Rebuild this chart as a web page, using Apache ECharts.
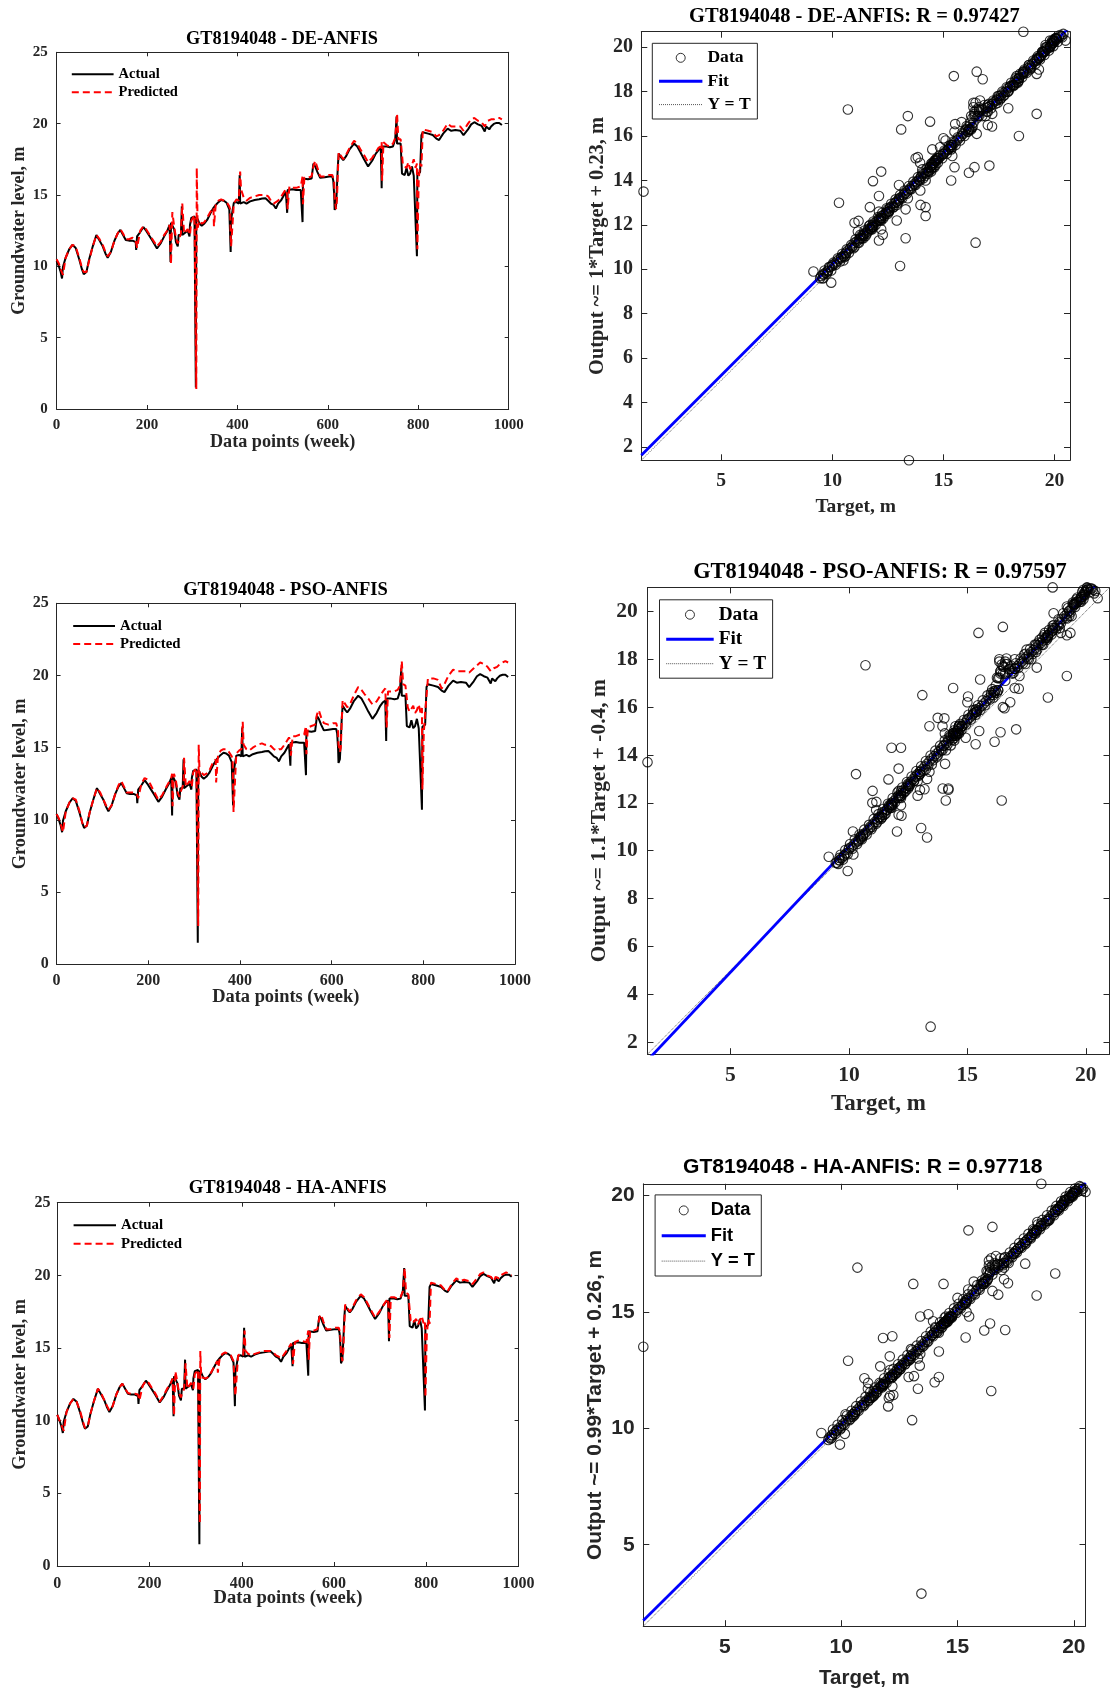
<!DOCTYPE html>
<html><head><meta charset="utf-8">
<script src="https://cdn.jsdelivr.net/npm/echarts@6/dist/echarts.min.js"></script>
<style>html,body{margin:0;padding:0;background:#fff}#c{width:1110px;height:1691px}</style>
</head><body><div id="c"></div>
<script>
// ---------------- DATA ----------------
const weeks = [0,5,9,12,14,20,28,35,42,50,56,60,66,72,80,88,95,102,108,113,120,128,135,141,147,153,160,168,175,176,178,185,192,198,204,212,222,230,238,245,250,252,253,256,260,264,268,270,275,277,278,282,290,294,295,298,305,308,309,310,312,316,321,327,333,340,347,348,352,358,364,370,376,382,384,385,386,392,398,403,405,406,408,414,420,428,438,448,455,462,468,474,480,485,490,497,503,507,510,511,515,522,530,540,544,545,548,556,564,568,572,577,583,593,603,610,612,614,615,618,620,622,624,630,634,640,648,658,665,672,680,689,698,706,712,717,719,720,723,730,737,744,749,752,753,756,761,764,766,770,774,778,782,786,790,794,797,798,801,804,807,810,822,832,840,846,855,865,873,882,893,900,910,917,924,932,940,944,947,950,954,957,961,967,973,979,985];

const actual = [10.4,10.0,9.6,9.15,9.95,10.6,11.2,11.5,11.3,10.5,9.8,9.45,9.6,10.5,11.4,12.2,11.8,11.4,10.9,10.6,11.0,11.8,12.3,12.55,12.2,11.85,11.8,11.8,11.7,11.15,12.1,12.4,12.75,12.5,12.2,11.8,11.25,11.6,12.1,12.5,12.9,10.3,13.05,13.0,12.6,11.7,11.4,12.2,12.2,14.2,12.2,12.1,12.5,12.1,12.9,13.4,13.5,1.5,13.45,13.4,13.3,13.0,12.85,13.0,13.25,13.7,14.1,14.2,14.3,14.5,14.65,14.6,14.45,14.0,13.9,11.0,13.3,14.45,14.5,14.4,16.4,14.4,14.5,14.5,14.4,14.55,14.65,14.7,14.75,14.77,14.6,14.4,14.3,14.05,14.4,14.65,15.0,15.23,13.75,15.35,15.35,15.4,15.35,15.35,13.1,16.15,16.1,16.1,16.15,17.2,17.0,16.6,16.2,16.25,16.3,16.3,16.0,15.0,13.95,14.2,15.5,17.0,17.9,17.6,17.45,17.7,18.2,18.6,18.4,18.0,17.5,17.0,17.4,17.9,18.15,18.27,15.47,18.4,18.3,18.4,18.35,18.4,18.9,20.5,18.6,18.6,18.6,16.5,16.6,16.4,16.9,16.35,16.5,17.0,16.35,16.4,10.7,16.45,16.5,16.6,19.2,19.4,19.3,19.2,18.95,18.85,19.3,19.65,19.5,19.55,19.5,19.2,19.6,19.95,20.1,19.95,19.85,19.8,19.45,19.8,19.9,19.6,19.8,19.98,20.05,20.05,19.9];

const predDE = [10.5,10.2,9.8,9.9,9.4,10.6,11.2,11.5,11.4,10.6,9.9,9.6,9.6,10.4,11.4,12.2,11.9,11.5,11.0,10.7,11.0,11.8,12.3,12.6,12.3,11.9,11.9,12.0,11.8,11.7,11.3,12.5,12.8,12.6,12.3,11.9,11.4,11.7,12.2,12.5,12.9,13.0,10.15,13.8,12.8,12.0,11.6,11.8,12.3,12.4,14.4,12.3,12.6,12.6,12.2,13.2,13.6,13.5,1.4,16.9,12.7,13.2,13.0,13.1,13.4,13.8,14.1,12.8,14.3,14.6,14.7,14.6,14.5,14.2,14.0,12.1,11.4,14.4,14.7,14.6,14.6,16.65,15.4,14.8,14.6,14.8,14.9,15.0,15.0,15.0,14.9,14.6,14.4,14.5,14.6,14.9,15.2,15.4,15.0,14.0,15.6,15.5,15.5,15.6,16.3,14.35,16.2,16.2,16.3,17.0,17.4,16.9,16.3,16.3,16.4,16.4,16.3,15.9,14.8,14.0,14.6,16.5,18.0,17.7,17.5,17.8,18.3,18.8,18.6,18.2,17.8,17.3,17.6,18.0,18.3,18.4,18.7,16.0,18.7,18.5,18.4,18.6,19.0,20.3,20.7,18.9,18.9,18.9,17.1,17.0,16.9,17.3,16.8,17.1,17.5,16.9,17.2,11.2,16.1,17.2,17.0,19.6,19.5,19.4,19.1,19.2,19.5,20.0,19.8,19.8,19.8,19.5,20.0,20.3,20.4,20.2,20.1,20.0,19.8,20.0,20.2,20.1,20.3,20.3,20.4,20.4,20.3];

const predPSO = [10.4,10.1,9.7,9.75,9.15,10.6,11.2,11.5,11.4,10.6,9.8,9.5,9.6,10.5,11.4,12.2,11.9,11.4,11.0,10.7,11.0,11.8,12.4,12.7,12.3,11.9,11.9,11.9,11.8,11.7,11.5,12.5,12.9,12.8,12.5,12.0,11.4,11.7,12.2,12.6,12.9,13.2,10.95,13.2,12.8,11.9,11.6,11.9,12.3,12.55,14.3,12.3,12.7,12.5,12.3,13.3,13.6,13.7,2.65,15.2,13.0,13.3,13.1,13.2,13.4,13.9,14.2,12.6,14.4,14.8,14.9,14.9,14.7,14.4,14.2,12.5,10.55,14.6,14.8,14.9,14.95,16.8,15.2,14.9,14.8,15.0,15.2,15.3,15.2,15.2,15.1,14.9,14.8,14.9,14.9,15.2,15.5,15.7,15.55,14.45,15.8,15.8,15.9,15.9,16.5,14.55,16.4,16.5,16.6,17.3,17.6,17.1,16.7,16.6,16.7,16.7,16.6,16.2,15.2,14.7,15.0,16.8,18.3,18.0,17.8,18.0,18.6,19.2,19.0,18.7,18.4,18.0,18.2,18.6,18.9,19.1,19.1,16.4,18.9,18.9,18.9,19.0,19.3,20.55,21.0,19.4,19.3,19.35,17.8,17.5,17.4,17.9,17.4,17.6,18.0,17.4,17.75,12.1,16.0,17.4,17.3,19.8,19.8,19.7,19.1,19.4,20.0,20.4,20.3,20.3,20.3,20.2,20.5,20.7,20.9,20.8,20.6,20.5,20.3,20.4,20.5,20.4,20.6,20.8,20.9,21.0,20.9];

const predHA = [10.4,10.0,9.7,9.8,9.3,10.6,11.2,11.5,11.3,10.6,9.9,9.5,9.6,10.5,11.4,12.2,11.9,11.4,11.0,10.7,11.0,11.8,12.3,12.55,12.2,11.9,11.85,11.85,11.8,11.7,11.4,12.4,12.75,12.6,12.3,11.9,11.3,11.7,12.2,12.5,12.9,12.9,10.35,13.4,12.7,11.9,11.6,11.8,12.2,12.2,13.95,12.2,12.6,12.5,12.2,13.2,13.5,13.5,2.9,14.8,13.0,13.1,12.9,13.0,13.3,13.7,14.1,13.3,14.3,14.6,14.7,14.6,14.5,14.1,14.0,12.15,11.7,14.5,14.6,14.5,14.5,16.2,14.8,14.6,14.5,14.6,14.7,14.8,14.8,14.8,14.7,14.5,14.4,14.3,14.5,14.8,15.1,15.3,14.9,13.9,15.4,15.5,15.5,15.4,16.2,14.2,16.2,16.2,16.3,17.1,17.3,16.8,16.3,16.3,16.4,16.4,16.2,15.6,14.6,14.1,14.8,16.4,18.0,17.7,17.5,17.8,18.3,18.7,18.5,18.1,17.6,17.1,17.5,17.9,18.2,18.4,18.5,15.7,18.5,18.5,18.4,18.5,18.9,20.15,20.5,18.8,18.7,18.65,16.9,16.7,16.8,17.0,16.6,16.9,17.2,16.7,16.9,11.6,15.9,17.0,16.65,19.5,19.4,19.3,19.0,18.9,19.4,19.8,19.6,19.7,19.6,19.4,19.8,20.1,20.2,20.0,19.9,19.9,19.6,19.9,20.0,19.8,20.0,20.1,20.2,20.1,20.0];

// dense band of the regression plots (Target -> Output read along the band)
const bandT = [9.5,9.6,9.7,9.8,9.9,10.0,10.1,10.2,10.3,10.4,10.5,10.6,10.7,10.8,10.9,11.0,11.1,11.2,11.3,11.4,11.5,11.6,11.7,11.8,11.9,12.0,12.1,12.2,12.3,12.4,12.5,12.6,12.7,12.8,12.9,13.0,13.1,13.2,13.3,13.4,13.5,13.6,13.7,13.8,13.9,14.0,14.1,14.2,14.3,14.4,14.5,14.6,14.7,14.8,14.9,15.0,15.1,15.2,15.3,15.4,15.5,15.6,15.7,15.8,15.9,16.0,16.1,16.2,16.3,16.4,16.5,16.6,16.7,16.8,16.9,17.0,17.1,17.2,17.3,17.4,17.5,17.6,17.7,17.8,17.9,18.0,18.1,18.2,18.3,18.4,18.5,18.6,18.7,18.8,18.9,19.0,19.1,19.2,19.3,19.4,19.5,19.6,19.7,19.8,19.9,20.0,20.1,20.2,20.3,20.4];
const bandDE = [9.7,9.75,9.85,9.95,10.1,10.15,10.25,10.35,10.45,10.55,10.6,10.75,10.85,10.95,11.05,11.2,11.25,11.35,11.5,11.55,11.65,11.8,11.85,11.95,12.1,12.15,12.25,12.4,12.45,12.55,12.7,12.75,12.85,13.0,13.05,13.15,13.25,13.35,13.45,13.55,13.65,13.75,13.85,13.95,14.05,14.15,14.3,14.35,14.45,14.6,14.7,14.8,14.9,15.0,15.1,15.2,15.3,15.4,15.5,15.6,15.7,15.8,15.9,16.0,16.1,16.25,16.4,16.6,16.8,17.1,17.2,17.3,17.2,17.2,17.25,17.3,17.35,17.45,17.55,17.65,17.7,17.85,17.95,18.0,18.15,18.25,18.3,18.45,18.55,18.6,18.75,18.85,18.9,19.05,19.15,19.25,19.35,19.45,19.55,19.65,19.75,19.85,19.95,20.05,20.15,20.25,20.35,20.45,20.5,20.6];
const bandPSO = [9.5,9.6,9.7,9.8,9.9,10.05,10.15,10.25,10.35,10.45,10.55,10.65,10.75,10.85,10.95,11.1,11.2,11.3,11.4,11.5,11.62,11.72,11.85,11.95,12.08,12.2,12.3,12.4,12.52,12.62,12.75,12.87,12.98,13.1,13.2,13.3,13.4,13.52,13.62,13.74,13.85,13.95,14.05,14.15,14.27,14.38,14.48,14.6,14.7,14.8,14.9,15.0,15.1,15.22,15.33,15.45,15.55,15.65,15.75,15.85,15.95,16.05,16.15,16.25,16.37,16.5,16.65,16.9,17.2,17.5,17.7,17.9,17.8,17.6,17.5,17.6,17.7,17.8,17.9,18.0,18.1,18.2,18.3,18.38,18.48,18.58,18.68,18.78,18.88,18.98,19.1,19.2,19.3,19.42,19.55,19.68,19.8,19.9,20.02,20.12,20.25,20.35,20.45,20.58,20.7,20.85,20.95,20.95,20.9,20.85];
const bandHA = [9.6,9.7,9.8,9.9,10.0,10.1,10.2,10.3,10.4,10.5,10.6,10.7,10.8,10.9,11.0,11.1,11.2,11.3,11.4,11.5,11.6,11.7,11.8,11.9,12.0,12.1,12.2,12.3,12.4,12.5,12.6,12.7,12.8,12.9,13.0,13.1,13.2,13.3,13.4,13.5,13.6,13.7,13.8,13.9,14.0,14.1,14.2,14.3,14.4,14.5,14.6,14.7,14.8,14.9,15.0,15.1,15.2,15.3,15.4,15.5,15.6,15.7,15.8,15.9,16.0,16.1,16.25,16.45,16.7,16.9,17.0,17.1,17.05,17.0,17.05,17.1,17.2,17.3,17.4,17.5,17.6,17.7,17.8,17.9,18.0,18.1,18.2,18.3,18.4,18.5,18.6,18.7,18.8,18.9,19.0,19.1,19.2,19.3,19.4,19.5,19.6,19.7,19.8,19.9,20.0,20.1,20.2,20.3,20.35,20.3];
// second row of the band (upper/lower edges of the band)
const bandT2 = [9.55,9.65,9.75,9.85,9.95,10.05,10.15,10.25,10.35,10.45,10.55,10.65,10.75,10.85,10.95,11.05,11.15,11.25,11.35,11.45,11.55,11.65,11.75,11.85,11.95,12.05,12.15,12.25,12.35,12.45,12.55,12.65,12.75,12.85,12.95,13.05,13.15,13.25,13.35,13.45,13.55,13.65,13.75,13.85,13.95,14.05,14.15,14.25,14.35,14.45,14.55,14.65,14.75,14.85,14.95,15.05,15.15,15.25,15.35,15.45,15.55,15.65,15.75,15.85,15.95,16.05,16.15,16.25,16.35,16.45,16.55,16.65,16.75,16.85,16.95,17.05,17.15,17.25,17.35,17.45,17.55,17.65,17.75,17.85,17.95,18.05,18.15,18.25,18.35,18.45,18.55,18.65,18.75,18.85,18.95,19.05,19.15,19.25,19.35,19.45,19.55,19.65,19.75,19.85,19.95,20.05,20.15,20.25,20.35];
const bandDE2 = [9.6,9.95,9.8,10.1,9.95,10.3,10.2,10.5,10.35,10.7,10.55,10.9,10.75,11.1,10.95,11.35,11.2,11.55,11.4,11.75,11.6,11.95,11.8,12.15,12.0,12.35,12.2,12.55,12.4,12.75,12.6,12.95,12.8,13.15,13.0,13.35,13.2,13.55,13.4,13.75,13.6,13.95,13.8,14.15,14.0,14.35,14.2,14.55,14.4,14.75,14.6,14.95,14.8,15.15,15.0,15.35,15.2,15.55,15.4,15.75,15.6,15.95,15.8,16.15,16.0,16.45,16.3,16.9,16.6,17.5,16.9,17.6,16.9,17.4,17.1,17.45,17.25,17.6,17.45,17.8,17.65,18.0,17.85,18.2,18.05,18.4,18.25,18.6,18.45,18.8,18.65,19.0,18.85,19.2,19.05,19.4,19.25,19.6,19.45,19.8,19.65,20.0,19.85,20.2,20.05,20.4,20.25,20.55,20.45];
const bandPSO2 = [9.45,9.83,9.63,10.03,9.85,10.28,10.08,10.48,10.28,10.68,10.48,10.88,10.68,11.08,10.9,11.33,11.13,11.53,11.33,11.74,11.55,11.96,11.78,12.2,12.02,12.43,12.23,12.64,12.45,12.87,12.69,13.1,12.92,13.33,13.13,13.53,13.34,13.75,13.56,13.98,13.78,14.18,13.98,14.39,14.2,14.61,14.42,14.83,14.63,15.03,14.83,15.23,15.04,15.46,15.27,15.68,15.48,15.88,15.68,16.08,15.88,16.28,16.08,16.49,16.32,16.75,16.66,17.23,17.23,17.78,17.68,18.03,17.58,17.73,17.43,17.83,17.63,18.03,17.83,18.23,18.03,18.43,18.22,18.61,18.41,18.81,18.61,19.01,18.81,19.22,19.03,19.43,19.24,19.67,19.5,19.92,19.73,20.14,19.95,20.37,20.18,20.58,20.4,20.82,20.66,20.98,20.8,20.95,20.75];
const bandHA2 = [9.55,9.95,9.75,10.15,9.95,10.35,10.15,10.55,10.35,10.75,10.55,10.95,10.75,11.15,10.95,11.35,11.15,11.55,11.35,11.75,11.55,11.95,11.75,12.15,11.95,12.35,12.15,12.55,12.35,12.75,12.55,12.95,12.75,13.15,12.95,13.35,13.15,13.55,13.35,13.75,13.55,13.95,13.75,14.15,13.95,14.35,14.15,14.55,14.35,14.75,14.55,14.95,14.75,15.15,14.95,15.35,15.15,15.55,15.35,15.75,15.55,15.95,15.75,16.15,15.95,16.35,16.2,16.75,16.6,17.3,16.8,17.4,16.9,17.3,17.0,17.35,17.15,17.55,17.35,17.75,17.55,17.95,17.75,18.15,17.95,18.35,18.15,18.55,18.35,18.75,18.55,18.95,18.75,19.15,18.95,19.35,19.15,19.55,19.35,19.75,19.55,19.95,19.75,20.15,19.95,20.3,20.15,20.4,20.25];

// isolated scatter points (Target, Output)
const deOutT  = [11.83,11.69,12.10,11.18,12.27,13.97,13.96,15.40,15.53,15.82,15.50,16.77,17.07,17.19,17.92,19.20,19.30,13.85,14.85,15.10];
const deOutO  = [13.97,12.80,13.30,12.18,11.56,12.90,13.55,15.10,16.54,16.63,16.20,18.56,14.67,16.43,17.25,18.80,19.00,15.05,15.50,15.80];
const psoOutT = [10.17,10.19,10.99,11.16,11.67,11.80,12.10,12.03,12.22,13.00,13.19,14.03,13.96,14.09,14.06,15.03,14.93,15.54,16.57,16.81,17.06,17.17,17.93,18.64,19.20,19.35];
const psoOutO = [10.80,9.84,12.00,12.04,12.98,14.30,13.43,10.80,11.46,12.54,12.57,15.53,12.60,12.10,13.63,16.44,14.72,17.15,15.95,16.20,15.07,16.77,17.65,19.92,19.00,19.10];
const haOutT  = [10.19,10.16,11.16,11.68,11.80,12.09,12.02,12.24,13.13,13.38,14.02,15.46,15.39,16.75,17.05,17.17,17.91,18.43,15.70,12.05];
const haOutO  = [10.60,9.76,11.95,12.66,13.88,13.09,10.94,11.43,12.24,12.69,11.98,15.96,14.99,15.74,14.22,16.23,17.07,18.86,16.30,11.30];

// regression fit lines (slope, intercept) as drawn
const fitSlope = [1.0, 1.05, 0.99];
const fitIntercept = [0.23, -0.33, 0.26];

// texts and ticks
const tsTitles = ['GT8194048 - DE-ANFIS', 'GT8194048 - PSO-ANFIS', 'GT8194048 - HA-ANFIS'];
const scTitles = ['GT8194048 - DE-ANFIS: R = 0.97427', 'GT8194048 - PSO-ANFIS: R = 0.97597', 'GT8194048 - HA-ANFIS: R = 0.97718'];
const scYNames = ['Output ~= 1*Target + 0.23, m', 'Output ~= 1.1*Target + -0.4, m', 'Output ~= 0.99*Target + 0.26, m'];
const tsXName = 'Data points (week)';
const tsYName = 'Groundwater level, m';
const scXName = 'Target, m';
const tsXRange = [0, 1000, 200];
const tsYRange = [0, 25, 5];
const scXTicks = [5, 10, 15, 20];
const scYTicks = [[2,4,6,8,10,12,14,16,18,20], [2,4,6,8,10,12,14,16,18,20], [5,10,15,20]];

// ---------------- LAYOUT ----------------
const SERIF = "'Liberation Serif','Times New Roman',serif";
const SANS = "'Liberation Sans',Arial,sans-serif";
const AX = '#262626';

const tsLayout = [
  {l:56.6, t:52.3, w:452.1, h:356.7, title:[282,39], ts:18.3, tick:15, xm:8.5, ym:8.8, xn:18.2, xg:24.6, yn:18, yg:28, lg:{l:70.8, t:66.8, w:41.8, f:14.5, g:3}},
  {l:56.6, t:603.3, w:458.4, h:361, title:[285.5,590.7], ts:18.5, tick:16, xm:8.9, ym:7.8, xn:18.4, xg:24.2, yn:18.3, yg:27.6, lg:{l:72.2, t:618.5, w:41.8, f:14.8, g:3}},
  {l:57.3, t:1202.7, w:461.3, h:363.3, title:[287.6,1187.7], ts:18.65, tick:16, xm:9.5, ym:6.7, xn:18.6, xg:23, yn:18.3, yg:27.7, lg:{l:72.6, t:1217.8, w:42.4, f:14.9, g:3.4}}
];
const scLayout = [
  {l:641.3, t:31.7, w:428.7, h:428.6, title:[854.4,16.7], ts:20.5, font:SERIF, xt:19.6, xm:10.9, yt:20, ym:8.3, xn:19.5, xg:36.6, yn:20.4, yg:33.6,
   lg:{l:652.3, t:43.3, pad:[5.5,6.7,5.4,5.2], w:43.4, f:17.6, lh:17, g:5.4}},
  {l:647.5, t:587.4, w:462, h:466.8, title:[879.9,572.5], ts:22.4, font:SERIF, xt:21.5, xm:10.4, yt:21.5, ym:9.7, xn:23, xg:38.6, yn:21.4, yg:37.5,
   lg:{l:659.5, t:599.8, pad:[5.4,6.5,5,5.2], w:47.5, f:19.3, lh:19, g:5.5}},
  {l:643.3, t:1183.8, w:442.2, h:442.4, title:[862.7,1167.3], ts:21.1, font:SANS, xt:21, xm:10.9, yt:21, ym:8.6, xn:20.5, xg:41.5, yn:20.9, yg:37.5,
   lg:{l:655.1, t:1194.9, pad:[6,6.3,5.4,5.1], w:44.1, f:18.3, lh:19, g:6.35}}
];

const grids = [], xAxes = [], yAxes = [], series = [], legends = [], graphics = [];

function baseAxis(gi, tickLen) {
  return {
    type: 'value', gridIndex: gi,
    splitLine: {show: false},
    axisLine: {show: true, onZero: false, lineStyle: {color: AX, width: 1}},
    axisTick: {show: true, inside: true, length: tickLen, lineStyle: {color: AX, width: 1}}
  };
}
function addTitle(pos, text, size, family) {
  graphics.push({type: 'text', x: pos[0], y: pos[1], silent: true,
    style: {text: text, font: 'bold ' + size + 'px ' + family, fill: '#000',
      align: 'center', verticalAlign: 'middle', textAlign: 'center', textVerticalAlign: 'middle'}});
}
const plain = (v) => String(v);

// time-series panels
const preds = [predDE, predPSO, predHA];
tsLayout.forEach((L, i) => {
  const gi = grids.length;
  grids.push({left: L.l, top: L.t, width: L.w, height: L.h, show: false, containLabel: false, outerBoundsMode: 'none'});
  const lab = {color: AX, fontFamily: SERIF, fontWeight: 'bold', fontSize: L.tick, formatter: plain};
  const nameStyle = (s) => ({color: AX, fontFamily: SERIF, fontWeight: 'bold', fontSize: s});
  const xi = xAxes.length, yi = yAxes.length;
  xAxes.push(Object.assign(baseAxis(gi, 4), {position: 'bottom', min: tsXRange[0], max: tsXRange[1], interval: tsXRange[2],
    axisLabel: Object.assign({margin: L.xm}, lab), name: tsXName, nameLocation: 'middle', nameGap: L.xg, nameMoveOverlap: false, nameTextStyle: nameStyle(L.xn)}));
  xAxes.push(Object.assign(baseAxis(gi, 4), {position: 'top', min: tsXRange[0], max: tsXRange[1], interval: tsXRange[2], axisLabel: {show: false}}));
  yAxes.push(Object.assign(baseAxis(gi, 4), {position: 'left', min: tsYRange[0], max: tsYRange[1], interval: tsYRange[2],
    axisLabel: Object.assign({margin: L.ym}, lab), name: tsYName, nameLocation: 'middle', nameGap: L.yg, nameMoveOverlap: false, nameTextStyle: nameStyle(L.yn)}));
  yAxes.push(Object.assign(baseAxis(gi, 4), {position: 'right', min: tsYRange[0], max: tsYRange[1], interval: tsYRange[2], axisLabel: {show: false}}));
  series.push({type: 'line', name: 'Actual', xAxisIndex: xi, yAxisIndex: yi, symbol: 'none', z: 2, silent: true,
    lineStyle: {color: '#000', width: 2}, itemStyle: {color: '#000'},
    data: weeks.map((w, k) => [w, actual[k]])});
  series.push({type: 'line', name: 'Predicted', xAxisIndex: xi, yAxisIndex: yi, symbol: 'none', z: 3, silent: true,
    lineStyle: {color: '#ff0000', width: 2, type: [7, 4]}, itemStyle: {color: '#ff0000'},
    data: weeks.map((w, k) => [w, preds[i][k]])});
  legends.push({show: true, left: L.lg.l, top: L.lg.t, orient: 'vertical', padding: 0, itemGap: L.lg.g,
    itemWidth: L.lg.w, itemHeight: 15, selectedMode: false,
    textStyle: {color: '#000', fontFamily: SERIF, fontWeight: 'bold', fontSize: L.lg.f, lineHeight: 15},
    data: [{name: 'Actual', itemStyle: {opacity: 0}, lineStyle: {width: 2, color: '#000', type: 'solid'}},
           {name: 'Predicted', itemStyle: {opacity: 0}, lineStyle: {width: 2, color: '#ff0000', type: [7, 4]}}]});
  addTitle(L.title, tsTitles[i], L.ts, SERIF);
});

// regression panels
const outT = [deOutT, psoOutT, haOutT];
const outO = [deOutO, psoOutO, haOutO];
const bands = [bandDE, bandPSO, bandHA];
const bands2 = [bandDE2, bandPSO2, bandHA2];
scLayout.forEach((L, j) => {
  const gi = grids.length;
  grids.push({left: L.l, top: L.t, width: L.w, height: L.h, show: false, containLabel: false, outerBoundsMode: 'none'});
  const allVals = actual.concat(preds[j], outT[j], outO[j], bandT, bands[j], bandT2, bands2[j]);
  const mn = Math.min.apply(null, allVals), mx = Math.max.apply(null, allVals);
  const labX = {color: AX, fontFamily: L.font, fontWeight: 'bold', fontSize: L.xt, margin: L.xm, customValues: scXTicks, formatter: plain};
  const labY = {color: AX, fontFamily: L.font, fontWeight: 'bold', fontSize: L.yt, margin: L.ym, customValues: scYTicks[j], formatter: plain};
  const tickX = {show: true, inside: true, length: 6, lineStyle: {color: AX, width: 1}, customValues: scXTicks};
  const tickY = {show: true, inside: true, length: 6, lineStyle: {color: AX, width: 1}, customValues: scYTicks[j]};
  const nameStyle = (s) => ({color: AX, fontFamily: L.font, fontWeight: 'bold', fontSize: s});
  const xi = xAxes.length, yi = yAxes.length;
  xAxes.push(Object.assign(baseAxis(gi, 6), {position: 'bottom', min: mn, max: mx, axisLabel: labX, axisTick: tickX,
    name: scXName, nameLocation: 'middle', nameGap: L.xg, nameMoveOverlap: false, nameTextStyle: nameStyle(L.xn)}));
  xAxes.push(Object.assign(baseAxis(gi, 6), {position: 'top', min: mn, max: mx, axisLabel: {show: false}, axisTick: tickX}));
  yAxes.push(Object.assign(baseAxis(gi, 6), {position: 'left', min: mn, max: mx, axisLabel: labY, axisTick: tickY,
    name: scYNames[j], nameLocation: 'middle', nameGap: L.yg, nameMoveOverlap: false, nameTextStyle: nameStyle(L.yn)}));
  yAxes.push(Object.assign(baseAxis(gi, 6), {position: 'right', min: mn, max: mx, axisLabel: {show: false}, axisTick: tickY}));

  const pts = actual.map((a, k) => [a, preds[j][k]])
    .concat(bandT.map((t, k) => [t, bands[j][k]]))
    .concat(bandT2.map((t, k) => [t, bands2[j][k]]))
    .concat(outT[j].map((t, k) => [t, outO[j][k]]));
  series.push({type: 'line', name: 'Y = T', xAxisIndex: xi, yAxisIndex: yi, symbol: 'none', z: 1, silent: true, clip: true,
    lineStyle: {color: '#555', width: 1, type: 'dotted'}, itemStyle: {color: '#555'},
    data: [[mn, mn], [mx, mx]]});
  series.push({type: 'line', name: 'Fit', xAxisIndex: xi, yAxisIndex: yi, symbol: 'none', z: 2, silent: true, clip: true,
    lineStyle: {color: '#0000ff', width: 2.8}, itemStyle: {color: '#0000ff'},
    data: [[mn, fitSlope[j] * mn + fitIntercept[j]], [mx, fitSlope[j] * mx + fitIntercept[j]]]});
  series.push({type: 'scatter', name: 'Data', xAxisIndex: xi, yAxisIndex: yi, symbol: 'circle', symbolSize: 9.5, z: 3, silent: true,
    itemStyle: {color: 'rgba(0,0,0,0)', borderColor: '#000', borderWidth: 1.1},
    data: pts});
  legends.push({show: true, left: L.lg.l, top: L.lg.t, orient: 'vertical', padding: L.lg.pad, itemGap: L.lg.g,
    itemWidth: L.lg.w, itemHeight: 9, selectedMode: false,
    backgroundColor: '#fff', borderColor: AX, borderWidth: 1,
    textStyle: {color: '#000', fontFamily: L.font, fontWeight: 'bold', fontSize: L.lg.f, lineHeight: L.lg.lh},
    data: [{name: 'Data', itemStyle: {color: 'rgba(0,0,0,0)', borderColor: '#000', borderWidth: 1}},
           {name: 'Fit', itemStyle: {opacity: 0}, lineStyle: {width: 3, color: '#0000ff', type: 'solid'}},
           {name: 'Y = T', itemStyle: {opacity: 0}, lineStyle: {width: 1, color: '#555', type: 'dotted'}}]});
  addTitle(L.title, scTitles[j], L.ts, L.font);
});

const chart = echarts.init(document.getElementById('c'), null, {renderer: 'canvas'});
chart.setOption({
  animation: false,
  backgroundColor: '#fff',
  grid: grids, xAxis: xAxes, yAxis: yAxes,
  legend: legends, series: series, graphic: graphics,
  tooltip: {show: false}
});
</script>
</body></html>
